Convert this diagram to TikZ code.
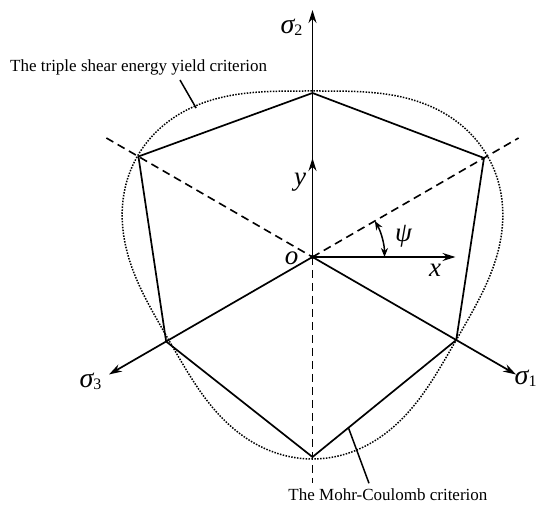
\documentclass[tikz,border=0pt]{standalone}
\usepackage{fontspec}
\setmainfont{Liberation Serif}
\usetikzlibrary{arrows.meta,calc}
\newcommand\mysig[1]{{\fontsize{28}{28}\selectfont\itshape σ}\raisebox{-0.45ex}{\fontsize{16}{16}\selectfont #1}}
\begin{document}
\begin{tikzpicture}[x=1pt,y=1pt,
  axis/.style={line width=1.7pt,-{Stealth[length=13pt,width=8pt]}},
  edge/.style={line width=1.7pt,line join=miter},
  guide/.style={line width=1.6pt,dash pattern=on 8pt off 5pt},
  yieldcurve/.style={line width=1.5pt,dash pattern=on 1.5pt off 1.4pt},
  lbl/.style={font=\fontsize{27}{27}\selectfont\itshape,inner sep=0pt},
  txt/.style={font=\fontsize{17}{20}\selectfont,inner sep=0pt},
  leader/.style={line width=1.5pt}]
\useasboundingbox (-312.5,-248) rectangle (226.5,257);
\coordinate (O) at (0,0);
% Mohr-Coulomb hexagon vertices
\coordinate (A) at (90:164);
\coordinate (B) at (150:201);
\coordinate (C) at (210:169);
\coordinate (D) at (270:200);
\coordinate (E) at (330:166);
\coordinate (F) at (30:198);
% axis ends
\coordinate (S1) at (-30:235);
\coordinate (S2) at (0,247);
\coordinate (S3) at (210:235);
\coordinate (X) at (143,0);
\coordinate (Y) at (0,99);
\coordinate (G1) at (150:238);
\coordinate (G2) at (30:238);
\coordinate (G3) at (270:226);
% triple shear yield curve
\draw[yieldcurve] plot[domain=0:360,samples=361] (\x:{184-18*cos(3*(\x-90))}) -- cycle;
% dashed guides
\draw[guide] (G1) -- (O);
\draw[guide] (O) -- (G2);
\draw[guide] (O) -- (G3);
% hexagon
\draw[edge] (A) -- (B) -- (C) -- (D) -- (E) -- (F) -- cycle;
% axes
\draw[axis] (O) -- (S2);
\draw[axis] (O) -- (S1);
\draw[axis] (O) -- (S3);
\draw[axis] (O) -- (X);
\draw[axis] (O) -- (Y);
\fill (O) circle (2pt);
% angle psi
\draw[line width=1.5pt,{Stealth[length=9pt,width=7pt]}-{Stealth[length=9pt,width=7pt]}] (72,0) arc (0:30:72);
% labels
\node[inner sep=0pt] (s2) at (-21,230) {\mysig{2}};
\node[inner sep=0pt,anchor=west] (s1) at (202,-121) {\mysig{1}};
\node[inner sep=0pt] (s3) at (-222,-124) {\mysig{3}};
\node[lbl] (ly) at (-12.5,75) {y};
\node[lbl] (lo) at (-20.8,-1.3) {o};
\node[lbl] (lx) at (122.5,-13) {x};
\node[lbl] (lpsi) at (91,21) {ψ};
% criterion texts and leaders
\node[txt,anchor=base west] (t1) at (-302.5,185) {The triple shear energy yield criterion};
\node[txt,anchor=base west] (t2) at (-24.2,-243.5) {The Mohr-Coulomb criterion};
\coordinate (L1a) at (-132.5,177);
\coordinate (L1b) at (128:189);
\coordinate (L2a) at ($(D)!0.25!(E)$);
\coordinate (L2b) at (56.5,-226.3);
\draw[leader] (L1a) -- (L1b);
\draw[leader] (L2a) -- (L2b);
\end{tikzpicture}
\end{document}
